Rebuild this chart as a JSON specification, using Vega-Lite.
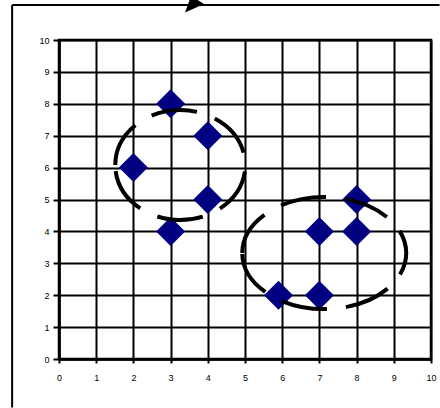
{
  "$schema": "https://vega.github.io/schema/vega-lite/v6.json",
  "width": 372,
  "height": 319,
  "autosize": "none",
  "padding": {"left": 59, "top": 40, "right": 9, "bottom": 49},
  "background": "white",
  "config": {
    "view": {"stroke": "black", "strokeWidth": 2.5}
  },
  "datasets": {
    "points": [
      {"x": 2, "y": 6}, {"x": 3, "y": 8}, {"x": 3, "y": 4}, {"x": 4, "y": 7}, {"x": 4, "y": 5},
      {"x": 5.9, "y": 2}, {"x": 7, "y": 2}, {"x": 7, "y": 4}, {"x": 8, "y": 4}, {"x": 8, "y": 5}
    ],
    "ellipses": [
      {"group": "A", "x": 3.26, "y": 6.08},
      {"group": "B", "x": 7.13, "y": 3.32}
    ],
    "frame": [
      {"x": -1.26, "x2": 10.23, "y": 11.1, "y2": 11.1},
      {"x": -1.26, "x2": -1.26, "y": -1.52, "y2": 11.1}
    ],
    "arrow": [{"x": 3.63, "y": 11.13}]
  },
  "encoding": {
    "x": {
      "field": "x", "type": "quantitative",
      "scale": {"domain": [0, 10], "nice": false, "zero": false},
      "axis": {
        "title": null, "values": [0,1,2,3,4,5,6,7,8,9,10],
        "grid": true, "gridColor": "black", "gridWidth": 2, "gridOpacity": 1,
        "domain": true, "domainColor": "black", "domainWidth": 2.5,
        "ticks": true, "tickColor": "black", "tickWidth": 2, "tickSize": 4,
        "labelFont": "Liberation Sans", "labelFontSize": 9, "labelColor": "black",
        "labelPadding": 10, "labelFlush": false, "labelOverlap": false
      }
    },
    "y": {
      "field": "y", "type": "quantitative",
      "scale": {"domain": [0, 10], "nice": false, "zero": false},
      "axis": {
        "title": null, "values": [0,1,2,3,4,5,6,7,8,9,10],
        "grid": true, "gridColor": "black", "gridWidth": 2, "gridOpacity": 1,
        "domain": true, "domainColor": "black", "domainWidth": 2.5,
        "ticks": true, "tickColor": "black", "tickWidth": 2, "tickSize": 6,
        "labelFont": "Liberation Sans", "labelFontSize": 9, "labelColor": "black",
        "labelPadding": 4, "labelFlush": false, "labelOverlap": false
      }
    }
  },
  "layer": [
    {
      "data": {"name": "frame"},
      "mark": {"type": "rule", "stroke": "black", "strokeWidth": 2, "clip": false},
      "encoding": {"x2": {"field": "x2"}, "y2": {"field": "y2"}}
    },
    {
      "data": {"name": "points"},
      "mark": {"type": "point", "shape": "diamond", "filled": true, "color": "#000080", "size": 841, "opacity": 1}
    },
    {
      "data": {"name": "ellipses"},
      "transform": [{"filter": "datum.group == 'A'"}],
      "mark": {
        "type": "point",
        "shape": "M-1,0C-1,-0.467,-0.552,-0.846,0,-0.846C0.552,-0.846,1,-0.467,1,0C1,0.467,0.552,0.846,0,0.846C-0.552,0.846,-1,0.467,-1,0Z",
        "size": 16900, "filled": false, "stroke": "black", "strokeWidth": 4,
        "strokeDash": [46, 19], "opacity": 1
      }
    },
    {
      "data": {"name": "ellipses"},
      "transform": [{"filter": "datum.group == 'B'"}],
      "mark": {
        "type": "point",
        "shape": "M-1,0C-1,-0.377,-0.552,-0.683,0,-0.683C0.552,-0.683,1,-0.377,1,0C1,0.377,0.552,0.683,0,0.683C-0.552,0.683,-1,0.377,-1,0Z",
        "size": 26896, "filled": false, "stroke": "black", "strokeWidth": 4,
        "strokeDash": [46, 19], "opacity": 1
      }
    },
    {
      "data": {"name": "arrow"},
      "mark": {"type": "point", "shape": "M-0.9,0.85L-0.3,-0.8L1,0Z", "size": 400, "filled": true, "color": "black", "opacity": 1, "clip": false}
    }
  ]
}
